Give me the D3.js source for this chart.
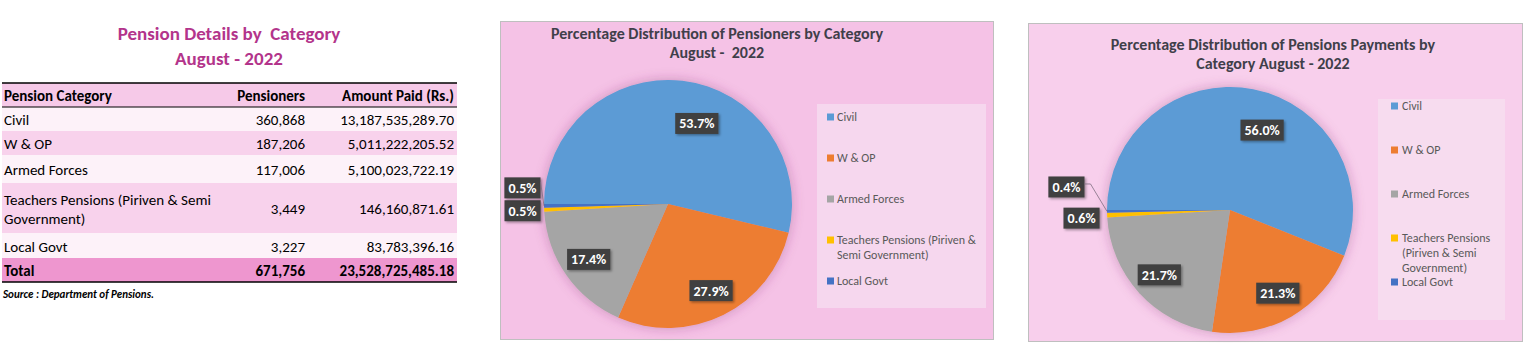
<!DOCTYPE html>
<html>
<head>
<meta charset="utf-8">
<script src="https://cdn.jsdelivr.net/npm/d3@7"></script>
<style>
  html, body { margin: 0; padding: 0; background: #ffffff; }
  svg { display: block; }
  text { font-family: Calibri, Carlito, Lato, "Noto Sans", sans-serif; white-space: pre; }
</style>
</head>
<body>
<svg id="chart" width="1525" height="343"></svg>
<script>
// ---- Data: pension details by category, August 2022 ----
const categories = ["Civil", "W & OP", "Armed Forces", "Teachers Pensions (Piriven & Semi Government)", "Local Govt"];
const tableCategoryLines = [["Civil"], ["W & OP"], ["Armed Forces"], ["Teachers Pensions (Piriven & Semi", "Government)"], ["Local Govt"]];
const pensioners = [360868, 187206, 117006, 3449, 3227];
const amountPaid = [13187535289.70, 5011222205.52, 5100023722.19, 146160871.61, 83783396.16];
const totalPensioners = 671756;
const totalAmountPaid = 23528725485.18;
const tableHeaders = ["Pension Category", "Pensioners", "Amount Paid (Rs.)"];
const tableTitle = ["Pension Details by  Category", "August - 2022"];
const sourceNote = "Source : Department of Pensions.";

const pensionersChartTitle = ["Percentage Distribution of Pensioners by Category", "August -  2022"];
const paymentsChartTitle = ["Percentage Distribution of Pensions Payments by", "Category August - 2022"];
const pensionersLegendLines = [["Civil"], ["W & OP"], ["Armed Forces"], ["Teachers Pensions (Piriven &", "Semi Government)"], ["Local Govt"]];
const paymentsLegendLines = [["Civil"], ["W & OP"], ["Armed Forces"], ["Teachers Pensions", "(Piriven & Semi", "Government)"], ["Local Govt"]];

// ---- Styles ----
const sliceColors = ["#5b9bd5", "#ed7d31", "#a5a5a5", "#ffc000", "#4472c4"];
const color = d3.scaleOrdinal().domain(categories).range(sliceColors);
const fmtInt = d3.format(",");
const fmtAmt = d3.format(",.2f");
const fmtPct = d3.format(".1%");

const svg = d3.select("#chart");
const defs = svg.append("defs");

// soft shadow around the pies
const pieShadow = defs.append("filter").attr("id", "pieShadow")
  .attr("x", "-20%").attr("y", "-20%").attr("width", "140%").attr("height", "140%");
pieShadow.append("feGaussianBlur").attr("in", "SourceAlpha").attr("stdDeviation", 6).attr("result", "blur");
pieShadow.append("feFlood").attr("flood-color", "#7d2a68").attr("flood-opacity", 0.35);
pieShadow.append("feComposite").attr("in2", "blur").attr("operator", "in").attr("result", "shadow");
const pm = pieShadow.append("feMerge");
pm.append("feMergeNode").attr("in", "shadow");
pm.append("feMergeNode").attr("in", "SourceGraphic");

// small drop shadow under data label boxes
const boxShadow = defs.append("filter").attr("id", "boxShadow")
  .attr("x", "-20%").attr("y", "-30%").attr("width", "150%").attr("height", "170%");
boxShadow.append("feDropShadow").attr("dx", 1.5).attr("dy", 1.5).attr("stdDeviation", 1.2)
  .attr("flood-color", "#000").attr("flood-opacity", 0.35);

// ================= Table =================
const table = {
  left: 2, right: 457, top: 83,
  rowHeights: [24, 24, 24, 28, 50, 25, 24],   // header, 5 categories, total
  fills: ["#f6c9e8", "#fdf2f9", "#f8d2ec", "#fdf2f9", "#f8d2ec", "#fdf2f9", "#ee96cf"],
  colPensionersRight: 305, colAmountRight: 454, textLeft: 4,
  fontSize: 15
};
const tg = svg.append("g");

tg.selectAll("text.ttl").data(tableTitle).join("text")
  .attr("x", 229).attr("y", (d, i) => 33 + i * 25)
  .attr("text-anchor", "middle").attr("dominant-baseline", "central")
  .attr("font-size", 19).attr("font-weight", "bold").attr("fill", "#b3348b")
  .text(d => d);

const rows = [
  { lines: [tableHeaders[0]], p: tableHeaders[1], a: tableHeaders[2], bold: true },
  ...categories.map((c, i) => ({ lines: tableCategoryLines[i], p: fmtInt(pensioners[i]), a: fmtAmt(amountPaid[i]), bold: false })),
  { lines: ["Total"], p: fmtInt(totalPensioners), a: fmtAmt(totalAmountPaid), bold: true }
];
const rowTops = d3.cumsum([0, ...table.rowHeights]).map(v => v + table.top);

rows.forEach((r, i) => {
  const y0 = rowTops[i], h = table.rowHeights[i], cy = y0 + h / 2 + 1;
  tg.append("rect").attr("x", table.left).attr("y", y0).attr("width", table.right - table.left).attr("height", h)
    .attr("fill", table.fills[i]);
  const weight = r.bold ? "bold" : "normal";
  const lh = 19;
  r.lines.forEach((ln, j) => {
    tg.append("text").attr("x", table.textLeft).attr("y", cy + (j - (r.lines.length - 1) / 2) * lh)
      .attr("dominant-baseline", "central").attr("font-size", table.fontSize).attr("font-weight", weight)
      .attr("fill", "#000").text(ln);
  });
  tg.append("text").attr("x", table.colPensionersRight).attr("y", cy).attr("text-anchor", "end")
    .attr("dominant-baseline", "central").attr("font-size", table.fontSize).attr("font-weight", weight)
    .attr("fill", "#000").text(r.p);
  tg.append("text").attr("x", table.colAmountRight).attr("y", cy).attr("text-anchor", "end")
    .attr("dominant-baseline", "central").attr("font-size", table.fontSize).attr("font-weight", weight)
    .attr("fill", "#000").text(r.a);
});
// rules
const rule = (y, w) => tg.append("line").attr("x1", table.left).attr("x2", table.right)
  .attr("y1", y).attr("y2", y).attr("stroke", "#000").attr("stroke-width", w);
rule(rowTops[0], 1.6);
rule(rowTops[1], 1);
rule(rowTops[rows.length], 1.6);

tg.append("text").attr("x", 3).attr("y", rowTops[rows.length] + 12)
  .attr("dominant-baseline", "central").attr("font-size", 11).attr("font-weight", "bold")
  .attr("font-style", "italic").attr("fill", "#000").text(sourceNote);

// ================= Pie charts =================
function drawPie(cfg) {
  const g = svg.append("g");
  g.append("rect").attr("x", cfg.panel[0] + 0.5).attr("y", cfg.panel[1] + 0.5)
    .attr("width", cfg.panel[2]).attr("height", cfg.panel[3])
    .attr("fill", cfg.panelFill).attr("stroke", "#bfbfbf").attr("stroke-width", 1);

  g.selectAll("text.title").data(cfg.title).join("text")
    .attr("x", cfg.titleX).attr("y", (d, i) => cfg.titleY + i * cfg.titleGap)
    .attr("text-anchor", "middle").attr("dominant-baseline", "central")
    .attr("font-size", 16).attr("font-weight", "bold").attr("fill", "#3f3f4a")
    .text(d => d);

  const total = d3.sum(cfg.values);
  const pie = d3.pie().sort(null).value(d => d.v)
    .startAngle(1.5 * Math.PI).endAngle(3.5 * Math.PI);
  const arcs = pie(cfg.values.map((v, i) => ({ v, c: categories[i] })));
  const arc = d3.arc().innerRadius(0).outerRadius(cfg.r);

  const pg = g.append("g").attr("transform", `translate(${cfg.cx},${cfg.cy})`);
  pg.append("g").attr("filter", "url(#pieShadow)")
    .selectAll("path").data(arcs).join("path")
    .attr("d", arc).attr("fill", d => color(d.data.c));

  const polar = (a, rr) => [Math.sin(a) * rr, -Math.cos(a) * rr];
  const boxH = 21, padX = 4;

  arcs.forEach((d, i) => {
    const share = d.data.v / total;
    const label = fmtPct(share);
    const mid = (d.startAngle + d.endAngle) / 2;
    let cxL, cyL, anchorRight = false, leader = null;
    const out = cfg.outside[i];
    if (out) {
      const [ex, ey] = polar(mid, cfg.r);
      cxL = ex + out.dx; cyL = ey + out.dy; anchorRight = true;
      if (out.leader) leader = { ex, ey, style: out.leader };
    } else {
      const nudge = cfg.inside[i] || { da: 0, rf: 0.78 };
      [cxL, cyL] = polar(mid + nudge.da * Math.PI / 180, cfg.r * nudge.rf);
    }
    const lg = pg.append("g");
    const t = lg.append("text").attr("font-size", 14).attr("font-weight", "bold").attr("fill", "#ffffff")
      .attr("dominant-baseline", "central").text(label);
    const w = t.node().getComputedTextLength() + padX * 2;
    const bx = anchorRight ? cxL - w : cxL - w / 2;
    lg.insert("rect", "text").attr("x", bx).attr("y", cyL - boxH / 2).attr("width", w).attr("height", boxH)
      .attr("fill", "#404040").attr("filter", "url(#boxShadow)");
    t.attr("x", bx + padX).attr("y", cyL + 0.5);
    if (leader) {
      const sx = bx + w, sy = cyL + leader.style.sy;
      const pts = leader.style.elbow ? [[sx, sy], [sx + leader.style.elbow, sy], [leader.ex, leader.ey]]
                                     : [[sx, sy], [leader.ex, leader.ey]];
      pg.append("path").attr("d", d3.line()(pts)).attr("fill", "none")
        .attr("stroke", "#7f6f80").attr("stroke-width", 0.8);
    }
  });

  // legend
  const L = cfg.legend;
  g.append("rect").attr("x", L.x).attr("y", L.y).attr("width", L.w).attr("height", L.h).attr("fill", L.fill);
  cfg.legendLines.forEach((lines, i) => {
    const y = L.firstY + i * L.step;
    g.append("rect").attr("x", L.markX).attr("y", y - 3.5).attr("width", 7).attr("height", 7).attr("fill", sliceColors[i]);
    lines.forEach((ln, j) => {
      g.append("text").attr("x", L.textX).attr("y", y + j * L.lineH).attr("dominant-baseline", "central")
        .attr("font-size", 12).attr("fill", "#595959").text(ln);
    });
  });
}

drawPie({
  panel: [500, 21, 493, 318], panelFill: "#f5c2e6",
  title: pensionersChartTitle, titleX: 717, titleY: 33, titleGap: 19,
  values: pensioners, cx: 668, cy: 204, r: 124,
  inside: { 0: { da: 13, rf: 0.69 } },
  outside: { 3: { dx: -3.5, dy: 1 }, 4: { dx: -3.5, dy: -18, leader: { sy: -6 } } },
  legend: { x: 817, y: 104, w: 169, h: 204, fill: "#f6d7ee", markX: 827, textX: 837,
            firstY: 117, step: 41, lineH: 15 },
  legendLines: pensionersLegendLines
});

drawPie({
  panel: [1028, 23, 494, 318], panelFill: "#f8cfec",
  title: paymentsChartTitle, titleX: 1273, titleY: 44, titleGap: 19,
  values: amountPaid, cx: 1230, cy: 210, r: 123,
  inside: { 0: { da: 11, rf: 0.70 } },
  outside: { 3: { dx: -7.5, dy: 3 }, 4: { dx: -22.5, dy: -24.4, leader: { sy: -3, elbow: 6 } } },
  legend: { x: 1378, y: 99, w: 127, h: 221, fill: "#f7dcef", markX: 1391, textX: 1402,
            firstY: 106, step: 44, lineH: 15 },
  legendLines: paymentsLegendLines
});
</script>
</body>
</html>
